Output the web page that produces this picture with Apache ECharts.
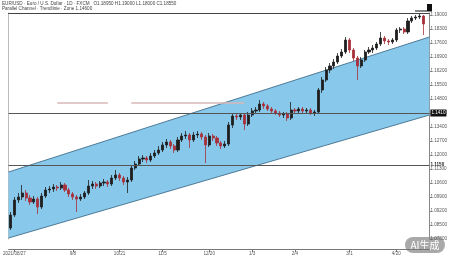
<!DOCTYPE html>
<html>
<head>
<meta charset="utf-8">
<script src="https://cdn.jsdelivr.net/npm/echarts@6/dist/echarts.min.js"></script>
<style>
html,body{margin:0;padding:0;background:#fff;}
#chart{width:450px;height:257px;}
</style>
</head>
<body>
<div id="chart"></div>
<script>
// ---- data (price in 1/10000 units) ----
const titleLine1 = 'EUR/USD · Euro / U.S. Dollar · 1D · FXCM   O1.18950 H1.19000 L1.18000 C1.18550';
const titleLine2 = 'Parallel Channel · Trendlinie · Zone 1.14600';

// [open, close, low, high]
const ohlc = [
[10835,10900,10825,10915],[10900,10975,10890,10990],[10975,10990,10960,11010],[10990,11010,10975,11050],
[11010,10985,10970,11025],[10985,10965,10950,11000],[10965,10980,10955,10995],[10980,10940,10905,10990],
[10940,10995,10930,11010],[10995,11025,10985,11040],[11025,11030,11010,11045],[11030,11040,11015,11055],
[11040,11035,11020,11050],[11035,11050,11025,11065],[11050,11025,11015,11060],[11025,11005,10990,11035],
[11005,10990,10975,11015],[10990,10980,10915,11000],[10980,10990,10970,11005],[10990,11010,10980,11020],
[11010,11045,11000,11075],[11045,11055,11030,11070],[11055,11045,11030,11065],[11045,11060,11035,11070],
[11060,11065,11045,11080],[11065,11055,11040,11075],[11055,11085,11045,11100],[11085,11100,11075,11125],
[11100,11085,11070,11110],[11085,11065,11050,11095],[11065,11075,11010,11090],[11075,11135,11065,11150],
[11135,11155,11125,11170],[11155,11180,11145,11195],[11180,11185,11165,11200],[11185,11175,11160,11195],
[11175,11195,11165,11210],[11195,11210,11185,11225],[11210,11225,11200,11245],[11225,11250,11215,11265],
[11250,11265,11235,11280],[11265,11245,11230,11275],[11245,11225,11210,11255],[11225,11275,11215,11290],
[11275,11295,11265,11310],[11295,11300,11280,11320],[11300,11275,11235,11310],[11275,11300,11265,11315],
[11300,11305,11285,11320],[11305,11290,11275,11315],[11290,11250,11160,11300],[11250,11295,11240,11310],
[11295,11285,11270,11305],[11285,11260,11245,11295],[11260,11245,11230,11270],[11245,11255,11235,11270],
[11255,11350,11245,11365],[11350,11395,11335,11410],[11395,11390,11375,11410],[11390,11400,11375,11410],
[11400,11355,11325,11410],[11355,11400,11345,11415],[11400,11420,11390,11435],[11420,11425,11410,11440],
[11425,11455,11415,11475],[11455,11445,11430,11465],[11445,11430,11420,11455],[11430,11420,11405,11440],
[11420,11410,11400,11430],[11410,11400,11390,11420],[11400,11405,11385,11415],[11405,11385,11370,11415],
[11385,11425,11375,11465],[11425,11420,11410,11435],[11420,11430,11410,11440],[11430,11420,11410,11440],
[11420,11425,11410,11435],[11425,11410,11400,11435],[11410,11415,11395,11425],[11415,11525,11405,11535],
[11525,11575,11510,11590],[11575,11625,11565,11640],[11625,11645,11610,11660],[11645,11665,11630,11680],
[11665,11695,11655,11710],[11695,11715,11685,11730],[11715,11775,11705,11790],[11775,11725,11710,11785],
[11725,11685,11670,11735],[11685,11645,11575,11695],[11645,11675,11635,11690],[11675,11715,11665,11725],
[11715,11725,11705,11740],[11725,11735,11710,11750],[11735,11755,11725,11765],[11755,11785,11745,11815],
[11785,11770,11755,11795],[11770,11765,11750,11780],[11765,11775,11755,11785],[11775,11825,11765,11835],
[11825,11830,11810,11840],[11830,11815,11805,11840],[11815,11870,11805,11885],[11870,11885,11860,11895],
[11885,11890,11875,11900],[11890,11895,11880,11905],[11895,11855,11800,11900]
];
const categoryCount = 108;
const tickIndex = [1, 16, 28, 39, 51, 62, 73, 87, 99];
const tickLabels = ['2021/08/27', '9/8', '10/21', '11/5', '12/20', '1/3', '2/4', '3/1', '4/20'];

// channel: values at left edge and right edge of the plot
const channelUpper = [11115, 11790];
const channelLower = [10785, 11400];

// horizontal levels
const levelMain = 11410;
const levelLow = 11150;
const pinkLevel = 11460;
const pinkSegments = [[12, 25], [31, 60]];

const yMin = 10780, yMax = 11910, yStep = 70;

// ---- chart ----
const categories = [];
for (let i = 0; i < categoryCount; i++) categories.push(String(i));
const FONT = 'Liberation Sans';

const chart = echarts.init(document.getElementById('chart'), null, {renderer: 'canvas'});
const pinkLines = pinkSegments.map(s => [
  {coord: [s[0], pinkLevel]}, {coord: [s[1], pinkLevel]}
]);

chart.setOption({
  animation: false,
  backgroundColor: '#ffffff',
  textStyle: {fontFamily: FONT},
  grid: {left: 3, right: 14, top: 13, bottom: 18, containLabel: false},
  graphic: [
    {type: 'text', left: 2, top: 1, style: {text: titleLine1, fontSize: 4.6, fill: '#444', fontFamily: FONT}},
    {type: 'text', left: 2, top: 6.5, style: {text: titleLine2, fontSize: 4.6, fill: '#444', fontFamily: FONT}},
    {type: 'rect', right: 18, top: 4, shape: {width: 5, height: 7}, style: {fill: '#111'}},
    {type: 'rect', right: 18, top: 10.5, shape: {width: 17, height: 1}, style: {fill: '#111'}},
    {type: 'group', right: 5, bottom: 4, children: [
      {type: 'rect', shape: {x: 0, y: 0, width: 40, height: 16, r: 8}, style: {fill: 'rgba(140,140,140,0.75)'}},
      {type: 'text', x: 20, y: 8, style: {text: 'AI生成', fontSize: 10, fill: '#fff', align: 'center', verticalAlign: 'middle', fontFamily: 'Noto Sans CJK SC'}}
    ]}
  ],
  xAxis: [{
    type: 'category',
    data: categories,
    boundaryGap: true,
    offset: 10,
    axisLine: {show: true, lineStyle: {color: '#777', width: 1}},
    axisTick: {show: true, length: 3, interval: (i) => tickIndex.includes(i), lineStyle: {color: '#777'}, alignWithLabel: true},
    axisLabel: {
      show: true, fontSize: 4.6, color: '#555', margin: 2,
      interval: (i) => tickIndex.includes(i),
      formatter: (v, i) => { const k = tickIndex.indexOf(i); return k >= 0 ? tickLabels[k] : ''; }
    },
    splitLine: {show: false}
  }, {
    type: 'category',
    data: categories,
    position: 'top',
    axisLine: {show: true, lineStyle: {color: '#444', width: 1}},
    axisTick: {show: false},
    axisLabel: {show: false}
  }],
  yAxis: [{
    type: 'value',
    position: 'right',
    min: yMin, max: yMax, interval: yStep,
    scale: true,
    axisLine: {show: true, lineStyle: {color: '#888'}},
    axisTick: {show: true, length: 2, lineStyle: {color: '#888'}},
    axisLabel: {show: true, fontSize: 4.6, color: '#555', margin: 1, showMaxLabel: false,
      formatter: (v) => (v / 10000).toFixed(5)},
    splitLine: {show: false}
  }, {
    type: 'value',
    position: 'left',
    min: yMin, max: yMax, interval: yStep,
    axisLine: {show: true, lineStyle: {color: '#bbb'}},
    axisTick: {show: false},
    axisLabel: {show: false},
    splitLine: {show: false}
  }],
  series: [
    {
      type: 'custom',
      silent: true,
      z: 1,
      data: [[0, channelUpper[0]]],
      renderItem: function (params, api) {
        const cs = params.coordSys;
        const x0 = cs.x, x1 = cs.x + cs.width;
        const yu0 = api.coord([0, channelUpper[0]])[1];
        const yu1 = api.coord([0, channelUpper[1]])[1];
        const yl0 = api.coord([0, channelLower[0]])[1];
        const yl1 = api.coord([0, channelLower[1]])[1];
        return {
          type: 'group',
          children: [
            {type: 'polygon', shape: {points: [[x0, yu0], [x1, yu1], [x1, yl1], [x0, yl0]]},
              style: {fill: '#88c8ea', stroke: null}},
            {type: 'line', shape: {x1: x0, y1: yu0, x2: x1, y2: yu1}, style: {stroke: '#3f6e8c', lineWidth: 0.9}},
            {type: 'line', shape: {x1: x0, y1: yl0, x2: x1, y2: yl1}, style: {stroke: '#3f6e8c', lineWidth: 0.9}}
          ]
        };
      }
    },
    {
      type: 'candlestick',
      z: 3,
      data: ohlc,
      barWidth: 2.6,
      itemStyle: {color: '#1e1e1e', color0: '#a8303a', borderColor: '#1e1e1e', borderColor0: '#a8303a', borderWidth: 0.8},
      markLine: {
        silent: true,
        symbol: ['none', 'none'],
        animation: false,
        data: [
          {yAxis: levelMain, lineStyle: {color: '#555', width: 1, type: 'solid'},
            label: {show: true, position: 'end', formatter: (p) => (p.value / 10000).toFixed(4), fontSize: 4.6, color: '#fff',
              backgroundColor: '#111', padding: [1, 1], distance: 1}},
          {yAxis: levelLow, lineStyle: {color: '#555', width: 1, type: 'solid'},
            label: {show: true, position: 'end', formatter: (p) => (p.value / 10000).toFixed(4), fontSize: 4.6, color: '#222',
              fontWeight: 'bold', distance: 1}},
          ...pinkLines.map(pair => [
            Object.assign({lineStyle: {color: '#d9b9b9', width: 1.5, type: 'solid'}, label: {show: false}}, pair[0]),
            pair[1]
          ])
        ]
      }
    }
  ]
});
</script>
</body>
</html>
